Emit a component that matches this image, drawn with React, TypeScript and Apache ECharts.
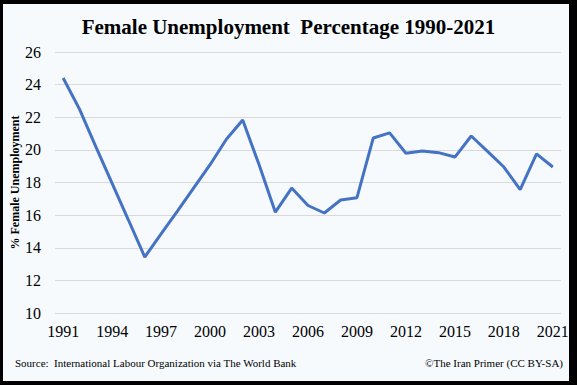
import React, { useEffect, useRef } from "react";
import * as echarts from "echarts";

const years: string[] = [
  "1991", "1992", "1993", "1994", "1995", "1996", "1997", "1998", "1999", "2000",
  "2001", "2002", "2003", "2004", "2005", "2006", "2007", "2008", "2009", "2010",
  "2011", "2012", "2013", "2014", "2015", "2016", "2017", "2018", "2019", "2020", "2021",
];

const femaleUnemployment: number[] = [
  24.41, 22.5, 20.2, 17.95, 15.7, 13.43, 14.85, 16.25, 17.67, 19.09,
  20.65, 21.83, 19.1, 16.18, 17.66, 16.59, 16.13, 16.93, 17.07, 20.73,
  21.04, 19.79, 19.93, 19.83, 19.56, 20.85, 19.91, 18.95, 17.56, 19.75, 18.95,
];

const titleText = "Female Unemployment  Percentage 1990-2021";
const yAxisName = "% Female Unemployment";
const sourceText = "Source:  International Labour Organization via The World Bank";
const creditText = "\u00A9The Iran Primer (CC BY-SA)";

const SERIF = "'Liberation Serif', 'Times New Roman', serif";

export default function App() {
  const ref = useRef<HTMLDivElement>(null);

  useEffect(() => {
    if (!ref.current) return;
    const chart = echarts.init(ref.current, undefined, { renderer: "svg" });
    chart.setOption({
      animation: false,
      backgroundColor: "transparent",
      title: {
        text: titleText,
        left: "center",
        top: 11,
        textStyle: {
          fontFamily: SERIF,
          fontSize: 21,
          fontWeight: "bold",
          color: "#000",
        },
      },
      grid: {
        left: 55,
        right: 16,
        top: 52,
        bottom: 72,
        containLabel: false,
        outerBoundsMode: "none",
      },
      xAxis: {
        type: "category",
        data: years,
        boundaryGap: true,
        axisLine: { show: false },
        axisTick: { show: false },
        axisLabel: {
          interval: 2,
          margin: 10,
          fontFamily: SERIF,
          fontSize: 16,
          color: "#000",
        },
        splitLine: { show: false },
      },
      yAxis: {
        type: "value",
        min: 10,
        max: 26,
        interval: 2,
        name: yAxisName,
        nameLocation: "middle",
        nameRotate: 90,
        nameGap: 34,
        nameMoveOverlap: false,
        nameTextStyle: {
          fontFamily: SERIF,
          fontSize: 12,
          fontWeight: "bold",
          color: "#000",
        },
        axisLine: { show: false },
        axisTick: { show: false },
        axisLabel: {
          margin: 14,
          fontFamily: SERIF,
          fontSize: 16,
          color: "#000",
        },
        splitLine: { show: true, lineStyle: { color: "#d9d9d9", width: 1 } },
      },
      series: [
        {
          type: "line",
          data: femaleUnemployment,
          symbol: "none",
          lineStyle: { color: "#4472C4", width: 3 },
          itemStyle: { color: "#4472C4" },
        },
      ],
      graphic: [
        {
          type: "text",
          left: 15,
          top: 357,
          style: {
            text: sourceText,
            fontFamily: SERIF,
            fontSize: 11,
            fill: "#000",
          },
        },
        {
          type: "text",
          right: 14,
          top: 357,
          style: {
            text: creditText,
            fontFamily: SERIF,
            fontSize: 11,
            fill: "#000",
          },
        },
      ],
    });
    return () => chart.dispose();
  }, []);

  return (
    <div
      style={{
        position: "fixed",
        left: 0,
        top: 0,
        width: 577,
        height: 385,
        background: "#000",
      }}
    >
      <div
        style={{
          position: "absolute",
          left: 3,
          top: 4,
          width: 566,
          height: 377,
          background: "#f6fafd",
        }}
      />
      <div
        ref={ref}
        style={{ position: "absolute", left: 0, top: 0, width: 577, height: 385 }}
      />
    </div>
  );
}
